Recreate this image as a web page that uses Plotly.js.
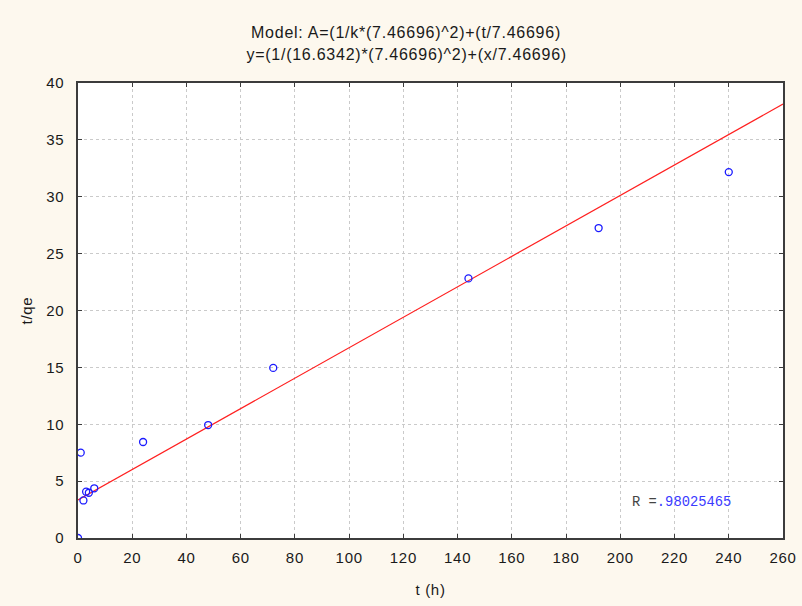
<!DOCTYPE html>
<html>
<head>
<meta charset="utf-8">
<script src="https://cdn.plot.ly/plotly-3.0.1.min.js"></script>
<style>
  html, body { margin: 0; padding: 0; background: #fdf8ee; }
  #chart { width: 802px; height: 606px; }
  #chart .xtick text, #chart .ytick text, #chart .xtitle, #chart .ytitle { letter-spacing: 0.7px; }
  #chart .gtitle, #chart .annotation.heading text { letter-spacing: 0.75px; }
</style>
</head>
<body>
<div id="chart"></div>
<script>
// Observed points: time (h) and t/qe
const timeH = [0, 1, 2, 3, 4, 6, 24, 48, 72, 144, 192, 240];
const tOverQe = [0, 7.5, 3.3, 4.07, 3.98, 4.37, 8.44, 9.93, 14.95, 22.82, 27.25, 32.17];

// Fitted pseudo-second-order line, end points across the axis range
const fitX = [0, 260];
const fitY = [3.35, 38.15];

const xTicks = [0, 20, 40, 60, 80, 100, 120, 140, 160, 180, 200, 220, 240, 260];
const yTicks = [0, 5, 10, 15, 20, 25, 30, 35, 40];

const titleLine1 = 'Model: A=(1/k*(7.46696)^2)+(t/7.46696)';
const titleLine2 = 'y=(1/(16.6342)*(7.46696)^2)+(x/7.46696)';
const rLabel = '<span style="color:#444444">R =</span><span style="color:#3a3aff">.98025465</span>';

const font = 'Liberation Sans, Arial, sans-serif';
const ink = '#1a1a1a';

const traces = [
  {
    x: fitX, y: fitY,
    mode: 'lines',
    line: { color: '#ff2020', width: 1.2 },
    hoverinfo: 'skip',
    showlegend: false
  },
  {
    x: timeH, y: tOverQe,
    mode: 'markers',
    marker: { symbol: 'circle-open', color: '#1a1aff', size: 7, line: { width: 1.3, color: '#1a1aff' } },
    cliponaxis: true,
    showlegend: false
  }
];

const axisCommon = {
  showline: true, linecolor: '#3c3c3c', linewidth: 1.6, mirror: 'ticks',
  ticks: 'inside', ticklen: 4, tickcolor: '#3c3c3c', tickwidth: 1,
  showgrid: true, gridcolor: '#cacaca', griddash: 'dot', gridwidth: 1,
  zeroline: false,
  tickfont: { family: font, size: 15, color: ink }
};

const layout = {
  width: 802, height: 606,
  paper_bgcolor: '#fdf8ee',
  plot_bgcolor: '#ffffff',
  margin: { l: 78, r: 19, t: 83, b: 68 },
  title: {
    text: titleLine1,
    font: { family: font, size: 16, color: ink },
    x: 406 / 802, xanchor: 'center', xref: 'container',
    y: 1 - 32 / 606, yref: 'container', yanchor: 'middle'
  },
  xaxis: Object.assign({}, axisCommon, {
    range: [0, 260], tickvals: xTicks, ticktext: xTicks.map(String),
    ticklabelstandoff: 5,
    title: { text: 't (h)', font: { family: font, size: 15, color: ink }, standoff: 20 }
  }),
  yaxis: Object.assign({}, axisCommon, {
    range: [0, 40], tickvals: yTicks, ticktext: yTicks.map(String),
    ticklabelstandoff: 9,
    title: { text: 't/qe', font: { family: font, size: 15, color: ink }, standoff: 11 }
  }),
  annotations: [
    {
      text: titleLine2, xref: 'paper', yref: 'paper', x: (406 - 78) / 705, y: (537.7 - 55) / 454.7,
      xanchor: 'center', yanchor: 'middle', showarrow: false,
      font: { family: font, size: 16, color: ink }
    },
    {
      text: rLabel, xref: 'x', yref: 'y', x: 203.5, y: 3.1,
      xanchor: 'left', yanchor: 'middle', showarrow: false,
      font: { family: 'Liberation Mono, DejaVu Sans Mono, monospace', size: 13.8 }
    }
  ]
};

Plotly.newPlot('chart', traces, layout, { displayModeBar: false, staticPlot: true }).then(function (gd) {
  // widen the second heading line the same way as the title
  const heads = gd.querySelectorAll('.annotation');
  if (heads.length) heads[0].classList.add('heading');
});
</script>
</body>
</html>
